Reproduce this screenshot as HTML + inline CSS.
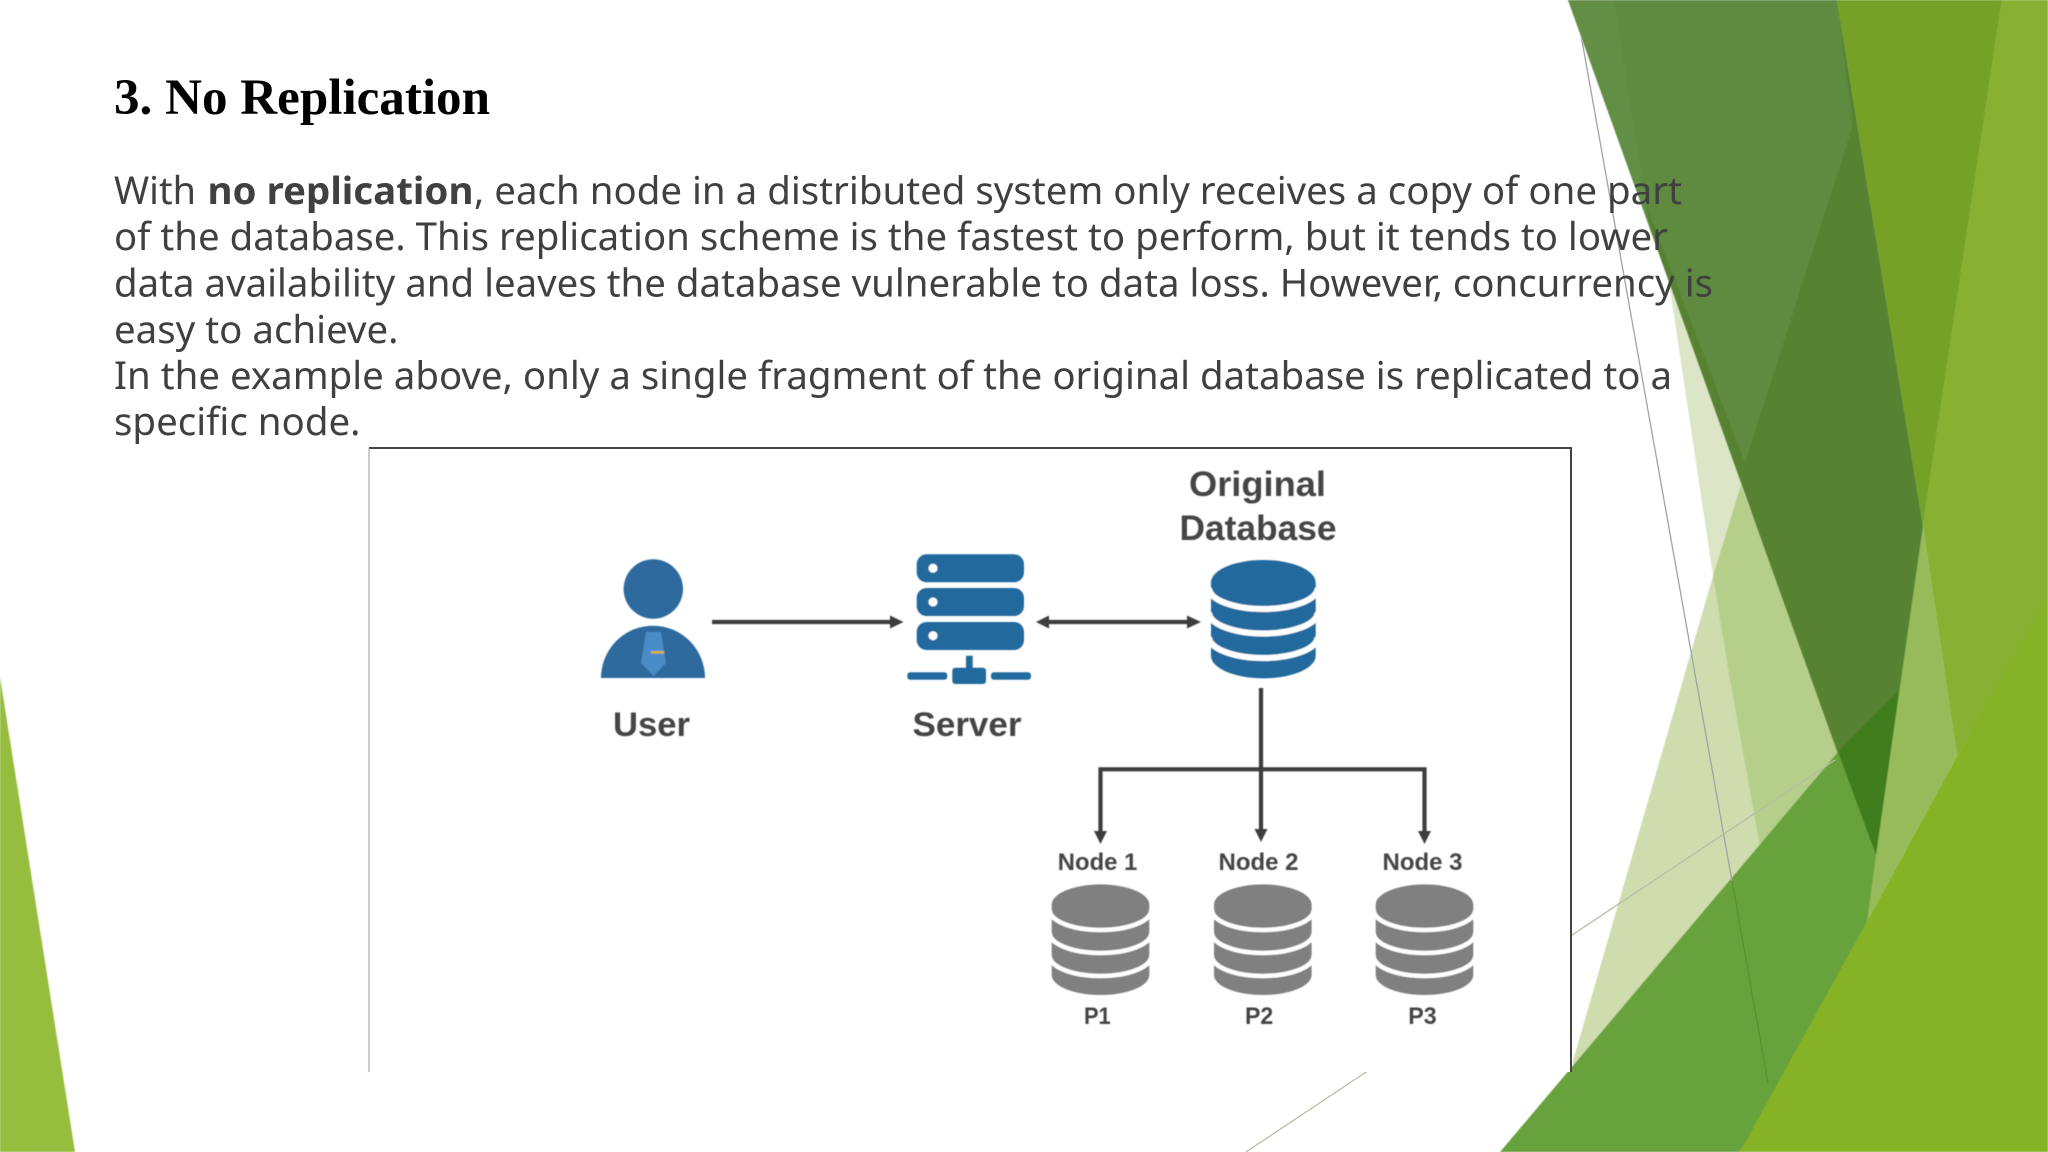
<!DOCTYPE html>
<html><head><meta charset="utf-8"><style>
html,body{margin:0;padding:0;background:#fff;width:2048px;height:1152px;overflow:hidden}
svg{display:block}
</style></head><body>
<svg xmlns="http://www.w3.org/2000/svg" width="2048" height="1152" viewBox="0 0 2048 1152">
<defs>
<filter id="b" x="-5%" y="-5%" width="110%" height="110%"><feGaussianBlur stdDeviation="0.6"/></filter>
<filter id="s" x="-2%" y="-2%" width="104%" height="104%"><feGaussianBlur stdDeviation="0.45"/></filter>
</defs>
<rect width="2048" height="1152" fill="#fff"/>
<g filter="url(#b)">
<polygon points="0,677 75,1152 0,1152" fill="#96bd3c"/>
<polygon points="1669,282 1713,576 1745,490" fill="#dce6c6"/>
<polygon points="1713,576 1573,1061 1573,1100 1765,852" fill="#cfdcad"/>
<polygon points="1741,485 1713,576 1730,680 1759,841 1765,852 1845,762" fill="#b5cf8a"/>
<polygon points="2002,0 2048,0 2048,600 1957,756 1923,526" fill="#88b030"/>
<polygon points="1837,0 2002,0 1923,526" fill="#74a228"/>
<polygon points="1923,526 1957,756 1865,925" fill="#97bb5a"/>
<polygon points="1923,526 1866,925 1838,752" fill="#578230"/>
<polygon points="1568,0 1837,0 1923,526 1899,690 1838,754" fill="#578230"/>
<polygon points="1568,0 1837,0 1853,125 1745,463" fill="#5f8b40"/>
<polygon points="1568,0 1614,0 1640,165 1650,228" fill="#638e45"/>
<polygon points="1838,752 1899,690 1876,855" fill="#3f7d1c"/>
<polygon points="1838,752 1876,855 1866,930 1740,1152 1500,1152" fill="#68a23c"/>
<polygon points="2048,597 2048,1152 1740,1152 1865,925 1957,756" fill="#86b327"/>
</g>
<path d="M1581 35 L1732 881" stroke="#a3a3a3" stroke-width="1.3" fill="none"/>
<path d="M1732 881 L1768 1083" stroke="#5a9035" stroke-width="1.3" fill="none"/>
<path d="M1835 760 L1246 1152" stroke="#b5bba5" stroke-width="1.2" fill="none"/>
<rect x="369" y="447" width="1203" height="625" fill="#fff"/>
<path d="M369 448H1571V1072" stroke="#444" stroke-width="2" fill="none"/>
<path d="M369 448V1072" stroke="#aaa" stroke-width="1.2" fill="none"/>

<g filter="url(#s)">
<g font-family="'Liberation Sans',sans-serif" font-weight="bold" fill="#444">
<text x="613" y="736" font-size="34" textLength="77" lengthAdjust="spacingAndGlyphs">User</text>
<text x="912.5" y="736" font-size="34" textLength="109" lengthAdjust="spacingAndGlyphs">Server</text>
<text x="1189" y="496" font-size="35" textLength="137" lengthAdjust="spacingAndGlyphs">Original</text>
<text x="1179.5" y="540" font-size="35" textLength="157" lengthAdjust="spacingAndGlyphs">Database</text>
<text x="1057.8" y="870" font-size="24" textLength="79.5" lengthAdjust="spacingAndGlyphs">Node 1</text>
<text x="1218.5" y="870" font-size="24" textLength="80" lengthAdjust="spacingAndGlyphs">Node 2</text>
<text x="1382.5" y="870" font-size="24" textLength="80" lengthAdjust="spacingAndGlyphs">Node 3</text>
<text x="1084" y="1024" font-size="24" textLength="26.7" lengthAdjust="spacingAndGlyphs">P1</text>
<text x="1245" y="1024" font-size="24" textLength="28.3" lengthAdjust="spacingAndGlyphs">P2</text>
<text x="1408.3" y="1024" font-size="24" textLength="28.4" lengthAdjust="spacingAndGlyphs">P3</text>
</g>

<circle cx="653.3" cy="589" r="29.7" fill="#2e6b9e"/>
<path d="M601 678A52 52.3 0 0 1 705 678Z" fill="#2e6b9e"/>
<polygon points="646,632 661,632 666,663 653.5,676 641,663" fill="#4a8cc8"/>
<rect x="651" y="651" width="13" height="2.5" fill="#d9b23c"/>

<g fill="#20699d">
<rect x="916.7" y="554.3" width="107.3" height="28" rx="10"/>
<rect x="916.7" y="588" width="107.3" height="28" rx="10"/>
<rect x="916.7" y="622" width="107.3" height="28" rx="10"/>
<rect x="966" y="655.7" width="6.7" height="13"/>
<rect x="952.3" y="667.7" width="33.7" height="16.3" rx="3"/>
<rect x="907.3" y="672.3" width="40" height="7.4" rx="3"/>
<rect x="991" y="672.3" width="40" height="7.4" rx="3"/>
</g>
<g fill="#fff"><circle cx="933" cy="568.3" r="4.5"/><circle cx="933" cy="602" r="4.5"/><circle cx="933" cy="635.7" r="4.5"/></g>

<g stroke="#3c3c3c" stroke-width="4.2" fill="none">
<path d="M712 622H892"/>
<path d="M1048 622H1188"/>
<path d="M1261 688V830"/>
<path d="M1100.5 832V769.3H1424.5V832"/>
</g>
<g fill="#3c3c3c">
<polygon points="903.5,622 890,615.5 890,628.5"/>
<polygon points="1036,622 1049,615.5 1049,628.5"/>
<polygon points="1201,622 1187,615.5 1187,628.5"/>
<polygon points="1100.5,844 1094,831 1107,831"/>
<polygon points="1261,842 1254.5,829 1267.5,829"/>
<polygon points="1424.5,844 1418,831 1431,831"/>
</g>

<path d="M1211 582.5V655.8A52.3 22.5 0 0 0 1315.7 655.8V582.5Z" fill="#20699d"/>
<ellipse cx="1263.3" cy="582.5" rx="52.3" ry="22.5" fill="#20699d"/>
<g stroke="#fff" stroke-width="6" fill="none">
<path d="M1209 588A54.3 21 0 0 0 1317.6 588"/>
<path d="M1209 612.5A54.3 21 0 0 0 1317.6 612.5"/>
<path d="M1209 637A54.3 21 0 0 0 1317.6 637"/>
</g>

<g>
<path d="M1051.7 904.7V975A48.8 20 0 0 0 1149.3 975V904.7Z" fill="#808080"/>
<ellipse cx="1100.5" cy="904.7" rx="48.8" ry="20.3" fill="#808080"/>
<g stroke="#fff" stroke-width="4.5" fill="none">
<path d="M1049.7 910A50.8 20 0 0 0 1151.3 910"/>
<path d="M1049.7 933A50.8 20 0 0 0 1151.3 933"/>
<path d="M1049.7 956A50.8 20 0 0 0 1151.3 956"/>
</g>
</g>
<g>
<path d="M1214 904.7V975A48.8 20 0 0 0 1311.6 975V904.7Z" fill="#808080"/>
<ellipse cx="1262.8" cy="904.7" rx="48.8" ry="20.3" fill="#808080"/>
<g stroke="#fff" stroke-width="4.5" fill="none">
<path d="M1212 910A50.8 20 0 0 0 1313.6 910"/>
<path d="M1212 933A50.8 20 0 0 0 1313.6 933"/>
<path d="M1212 956A50.8 20 0 0 0 1313.6 956"/>
</g>
</g>
<g>
<path d="M1375.7 904.7V975A48.8 20 0 0 0 1473.3 975V904.7Z" fill="#808080"/>
<ellipse cx="1424.5" cy="904.7" rx="48.8" ry="20.3" fill="#808080"/>
<g stroke="#fff" stroke-width="4.5" fill="none">
<path d="M1373.7 910A50.8 20 0 0 0 1475.3 910"/>
<path d="M1373.7 933A50.8 20 0 0 0 1475.3 933"/>
<path d="M1373.7 956A50.8 20 0 0 0 1475.3 956"/>
</g>
</g>
</g>

<text x="114" y="114" font-family="'Liberation Serif',serif" font-weight="bold" font-size="51" fill="#000" textLength="376" lengthAdjust="spacingAndGlyphs">3. No Replication</text>

<g font-family="'Noto Sans','Open Sans','DejaVu Sans',sans-serif" font-size="38" fill="#404040">
<text x="114" y="204" textLength="82" lengthAdjust="spacingAndGlyphs">With</text>
<text x="207.5" y="204" font-weight="bold" textLength="266" lengthAdjust="spacingAndGlyphs">no replication</text>
<text x="474" y="204" textLength="1208" lengthAdjust="spacingAndGlyphs">, each node in a distributed system only receives a copy of one part</text>
<text x="114" y="250" textLength="1554" lengthAdjust="spacingAndGlyphs">of the database. This replication scheme is the fastest to perform, but it tends to lower</text>
<text x="114" y="296.5" textLength="1599" lengthAdjust="spacingAndGlyphs">data availability and leaves the database vulnerable to data loss. However, concurrency is</text>
<text x="114" y="343" textLength="284.5" lengthAdjust="spacingAndGlyphs">easy to achieve.</text>
<text x="114" y="389" textLength="1558" lengthAdjust="spacingAndGlyphs">In the example above, only a single fragment of the original database is replicated to a</text>
<text x="114" y="435" textLength="246.5" lengthAdjust="spacingAndGlyphs">specific node.</text>
</g>
</svg>
</body></html>
